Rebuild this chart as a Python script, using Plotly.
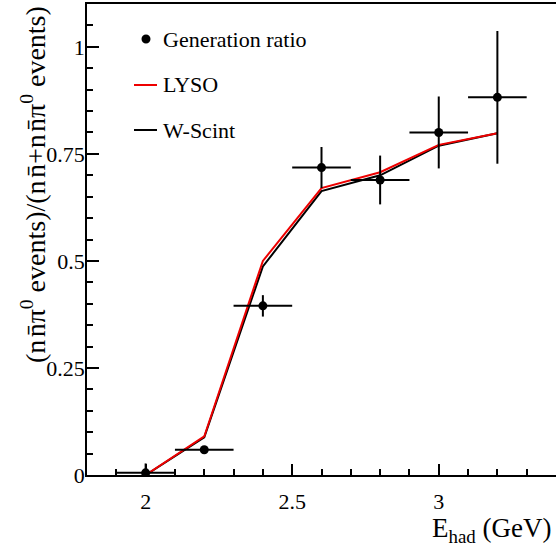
import plotly.graph_objects as go

# Hadronic energy bins (GeV) and measured generation ratio
e_had = [2.0, 2.2, 2.4, 2.6, 2.8, 3.0, 3.2]
e_half_width = [0.1, 0.1, 0.1, 0.1, 0.1, 0.1, 0.1]
gen_ratio = [0.005, 0.059, 0.395, 0.718, 0.689, 0.800, 0.882]
gen_ratio_err = [0.022, 0.008, 0.025, 0.048, 0.057, 0.084, 0.155]

# Calorimeter predictions
lyso_ratio = [0.0, 0.090, 0.500, 0.670, 0.707, 0.771, 0.798]
wscint_ratio = [0.0, 0.088, 0.487, 0.663, 0.700, 0.769, 0.798]

FONT = "Liberation Serif"
W, H = 556, 548
L, R, T, B = 87, 0, 4, 73
PW, PH = W - L - R, H - T - B


def px_x(p):
    return (p - L) / PW


def px_y(p):
    return (H - B - p) / PH


fig = go.Figure()

fig.add_trace(go.Scatter(
    x=e_had, y=wscint_ratio, mode="lines", name="W-Scint",
    line=dict(color="black", width=2), showlegend=False,
))
fig.add_trace(go.Scatter(
    x=e_had, y=lyso_ratio, mode="lines", name="LYSO",
    line=dict(color="#ee0000", width=2), showlegend=False,
))
fig.add_trace(go.Scatter(
    x=e_had, y=gen_ratio, mode="markers", name="Generation ratio",
    marker=dict(color="black", size=9),
    error_x=dict(type="data", array=e_half_width, color="black", thickness=2, width=0),
    error_y=dict(type="data", array=gen_ratio_err, color="black", thickness=2, width=0),
    showlegend=False,
))

# Legend drawn in pixel-mapped paper coordinates
shapes = [
    dict(type="circle", xref="paper", yref="paper",
         x0=px_x(141.5), x1=px_x(150.5), y0=px_y(43.5), y1=px_y(34.5),
         fillcolor="black", line=dict(color="black", width=0)),
    dict(type="line", xref="paper", yref="paper",
         x0=px_x(134), x1=px_x(157), y0=px_y(85), y1=px_y(85),
         line=dict(color="#ee0000", width=2)),
    dict(type="line", xref="paper", yref="paper",
         x0=px_x(134), x1=px_x(157), y0=px_y(130), y1=px_y(130),
         line=dict(color="black", width=2)),
]
annotations = [
    dict(text=t, xref="paper", yref="paper", x=px_x(161), y=px_y(py),
         xanchor="left", yanchor="middle", showarrow=False,
         font=dict(family=FONT, size=22, color="black"))
    for t, py in [("Generation ratio", 40), ("LYSO", 85), ("W-Scint", 130)]
]
annotations.append(dict(
    text="(n\u200an\u0304\u03c0<sup>0</sup> events)/(n\u200an\u0304+n\u200an\u0304\u03c0<sup>0</sup> events)",
    xref="paper", yref="paper", x=px_x(33), y=px_y(185),
    xanchor="center", yanchor="middle", textangle=-90, showarrow=False,
    font=dict(family=FONT, size=28, color="black"),
))
annotations.append(dict(
    text="E<sub>had</sub> (GeV)",
    xref="paper", yref="paper", x=px_x(554), y=px_y(530),
    xanchor="right", yanchor="middle", showarrow=False,
    font=dict(family=FONT, size=27, color="black"),
))

fig.update_layout(
    width=W, height=H,
    margin=dict(l=L, r=R, t=T, b=B),
    paper_bgcolor="white", plot_bgcolor="white",
    font=dict(family=FONT, size=22, color="black"),
    shapes=shapes, annotations=annotations,
    showlegend=False,
)
fig.update_xaxes(
    range=[1.8, 3.4], tick0=2, dtick=0.5, ticks="inside", ticklen=11,
    tickwidth=1.5, tickcolor="black", showline=True, linecolor="black",
    linewidth=1.5, mirror=True, showgrid=False, zeroline=False,
    ticklabelstandoff=6,
    minor=dict(dtick=0.1, tick0=2, ticks="inside", ticklen=6, tickwidth=1.5,
               tickcolor="black", showgrid=False),
    tickfont=dict(family=FONT, size=22),
)
fig.update_yaxes(
    range=[0, 1.1], tick0=0, dtick=0.25, ticks="inside", ticklen=12,
    tickwidth=1.5, tickcolor="black", showline=True, linecolor="black",
    linewidth=1.5, mirror=False, showgrid=False, zeroline=False,
    ticklabelstandoff=-4,
    minor=dict(dtick=0.05, tick0=0, ticks="inside", ticklen=6, tickwidth=1.5,
               tickcolor="black", showgrid=False),
    tickfont=dict(family=FONT, size=22),
)

fig.write_html("out.html")
